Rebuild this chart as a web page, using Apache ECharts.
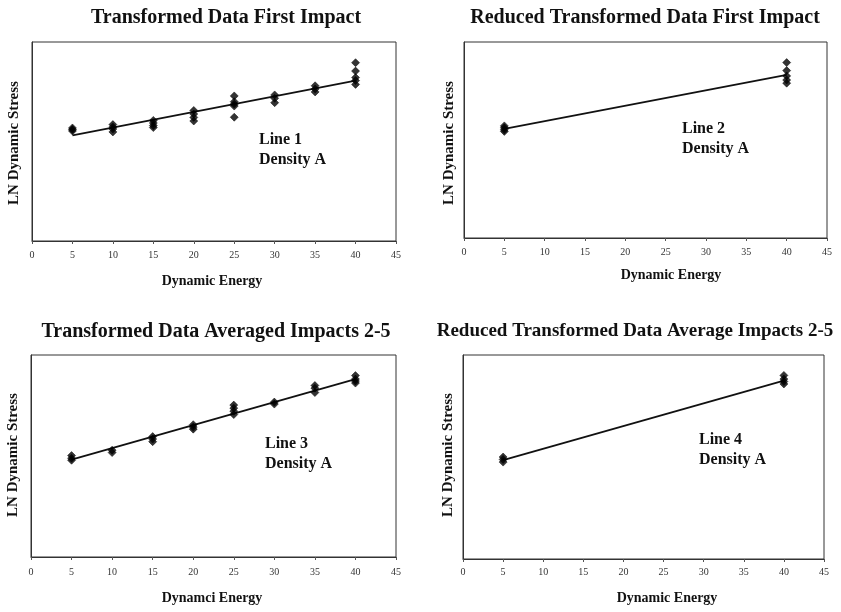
<!DOCTYPE html>
<html>
<head>
<meta charset="utf-8">
<script src="https://cdn.jsdelivr.net/npm/echarts@6/dist/echarts.min.js"></script>
<style>
  html, body { margin: 0; padding: 0; background: #fff; }
  #chart { width: 841px; height: 612px; }
</style>
</head>
<body>
<div id="chart"></div>
<script>
// Energy levels on the horizontal axis
const energyTicks = [0, 5, 10, 15, 20, 25, 30, 35, 40, 45];

// Panel titles
const panelTitles = [
  'Transformed Data First Impact',
  'Reduced Transformed Data First Impact',
  'Transformed Data Averaged Impacts 2-5',
  'Reduced Transformed Data Average Impacts 2-5'
];
const xAxisTitles = ['Dynamic Energy', 'Dynamic Energy', 'Dynamci Energy', 'Dynamic Energy'];
const yAxisTitle = 'LN Dynamic Stress';
const lineLabels = ['Line 1', 'Line 2', 'Line 3', 'Line 4'];
const densityLabel = 'Density A';

// Observations: [energy, ln stress] (stress scale is unlabelled, 0-10)
const firstImpact = [
  [5, 5.68], [5, 5.60], [5, 5.53],
  [10, 5.85], [10, 5.73], [10, 5.63], [10, 5.48],
  [15, 6.06], [15, 5.93], [15, 5.80], [15, 5.70],
  [20, 6.56], [20, 6.38], [20, 6.21], [20, 6.03],
  [25, 7.29], [25, 7.00], [25, 6.88], [25, 6.78], [25, 6.22],
  [30, 7.34], [30, 7.17], [30, 6.95],
  [35, 7.80], [35, 7.64], [35, 7.49],
  [40, 8.96], [40, 8.54], [40, 8.21], [40, 8.06], [40, 7.87]
];
const firstImpactFit = [[5, 5.31], [40, 8.06]];

const reducedFirstImpact = [
  [5, 5.72], [5, 5.62], [5, 5.52], [5, 5.44],
  [40, 8.95], [40, 8.54], [40, 8.27], [40, 8.06], [40, 7.90]
];
const reducedFirstImpactFit = [[5, 5.57], [40, 8.32]];

const averagedImpacts = [
  [5, 5.02], [5, 4.89], [5, 4.79],
  [10, 5.29], [10, 5.17],
  [15, 5.96], [15, 5.84], [15, 5.71],
  [20, 6.55], [20, 6.43], [20, 6.33],
  [25, 7.52], [25, 7.37], [25, 7.22], [25, 7.05],
  [30, 7.67], [30, 7.57],
  [35, 8.49], [35, 8.36], [35, 8.14],
  [40, 8.98], [40, 8.81], [40, 8.71], [40, 8.61]
];
const averagedImpactsFit = [[5, 4.82], [40, 8.81]];

const reducedAveragedImpacts = [
  [5, 5.00], [5, 4.88], [5, 4.75],
  [40, 9.00], [40, 8.82], [40, 8.70], [40, 8.58]
];
const reducedAveragedImpactsFit = [[5, 4.85], [40, 8.74]];

const panelPoints = [firstImpact, reducedFirstImpact, averagedImpacts, reducedAveragedImpacts];
const panelFits = [firstImpactFit, reducedFirstImpactFit, averagedImpactsFit, reducedAveragedImpactsFit];

// Layout of the four plots
const grids = [
  { left: 32, top: 42, width: 364, height: 199 },
  { left: 464, top: 42, width: 363, height: 196 },
  { left: 31, top: 355, width: 365, height: 202 },
  { left: 463, top: 355, width: 361, height: 204 }
];
const titlePos = [[221, 3], [640, 3], [211, 317], [630, 317]];
const titleSizes = [20, 20, 20, 19];
const xTitlePos = [[212, 281], [671, 275], [212, 598], [667, 598]];
const yTitlePos = [[14, 143], [449, 143], [13, 455], [448, 455]];
const notePos = [[259, 130], [682, 119], [265, 434], [699, 430]];
const tickMargins = [9, 9, 10, 8];

const serif = '"Liberation Serif", "Times New Roman", serif';
const ink = '#111111';

const option = {
  backgroundColor: '#ffffff',
  animation: false,
  title: panelTitles.map((t, i) => ({
    text: t,
    left: titlePos[i][0],
    top: titlePos[i][1],
    textAlign: 'center',
    textStyle: { fontFamily: serif, fontWeight: 'bold', fontSize: titleSizes[i], color: ink }
  })),
  grid: grids.map(g => Object.assign({ show: true, borderColor: '#333', borderWidth: 1, backgroundColor: 'transparent' }, g)),
  xAxis: grids.map((g, i) => ({
    type: 'value',
    gridIndex: i,
    min: 0,
    max: 45,
    interval: 5,
    axisLine: { show: true, onZero: false, lineStyle: { color: '#333', width: 1 } },
    axisTick: { show: true, length: 3, lineStyle: { color: '#555' } },
    axisLabel: {
      margin: tickMargins[i],
      fontFamily: serif, fontSize: 10, color: '#333',
      formatter: v => energyTicks.includes(v) ? String(v) : ''
    },
    splitLine: { show: false }
  })),
  yAxis: grids.map((g, i) => ({
    type: 'value',
    gridIndex: i,
    min: 0,
    max: 10,
    axisLine: { show: true, onZero: false, lineStyle: { color: '#333', width: 1 } },
    axisTick: { show: false },
    axisLabel: { show: false },
    splitLine: { show: false }
  })),
  series: [],
  graphic: []
};

panelPoints.forEach((pts, i) => {
  option.series.push({
    type: 'line',
    xAxisIndex: i,
    yAxisIndex: i,
    data: panelFits[i],
    showSymbol: false,
    lineStyle: { color: ink, width: 1.8 },
    z: 2
  });
  option.series.push({
    type: 'scatter',
    xAxisIndex: i,
    yAxisIndex: i,
    data: pts,
    symbol: 'diamond',
    symbolSize: [8, 8],
    itemStyle: { color: '#000', borderColor: '#000', borderWidth: 0.6 },
    z: 3
  });
  option.graphic.push({
    type: 'text',
    x: xTitlePos[i][0],
    y: xTitlePos[i][1],
    style: {
      text: xAxisTitles[i],
      textAlign: 'center',
      textVerticalAlign: 'middle',
      font: 'bold 14px ' + serif,
      fill: ink
    }
  });
  option.graphic.push({
    type: 'text',
    x: yTitlePos[i][0],
    y: yTitlePos[i][1],
    rotation: Math.PI / 2,
    style: {
      text: yAxisTitle,
      textAlign: 'center',
      textVerticalAlign: 'middle',
      font: 'bold 15px ' + serif,
      fill: ink
    }
  });
  option.graphic.push({
    type: 'text',
    x: notePos[i][0],
    y: notePos[i][1],
    style: {
      text: lineLabels[i] + '\n' + densityLabel,
      font: 'bold 16px ' + serif,
      lineHeight: 20,
      fill: ink
    }
  });
});

const chart = echarts.init(document.getElementById('chart'), null, { renderer: 'canvas' });
chart.setOption(option);
</script>
</body>
</html>
